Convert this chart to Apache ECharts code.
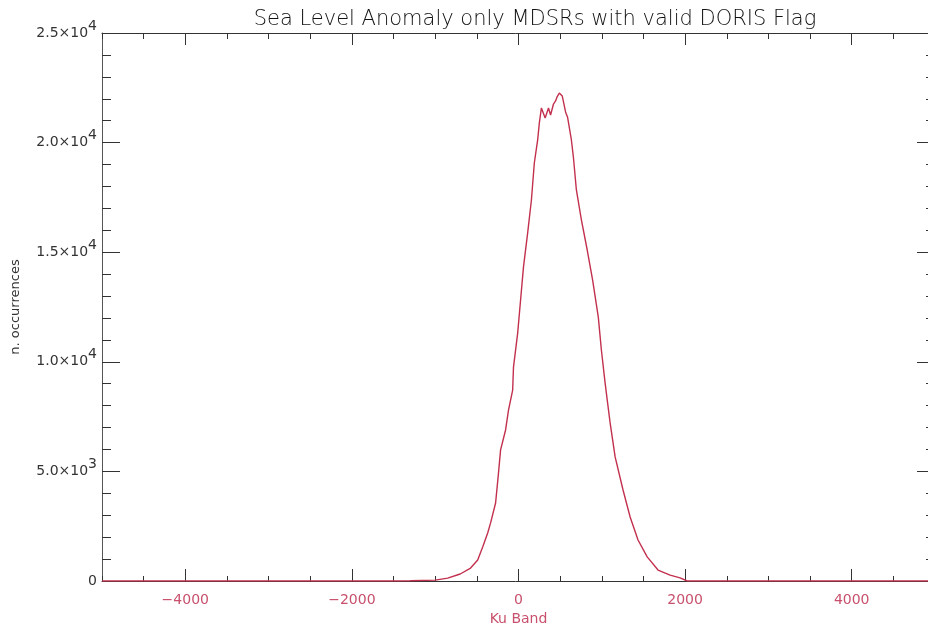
<!DOCTYPE html>
<html>
<head>
<meta charset="utf-8">
<script src="https://cdn.jsdelivr.net/npm/echarts@6/dist/echarts.min.js"></script>
<style>
  html, body { margin: 0; padding: 0; background: #fff; }
  #chart { width: 928px; height: 626px; }
</style>
</head>
<body>
<div id="chart"></div>
<script>
// histogram (bin centre, count)
const binCentres = [-5000, -1500, -1300, -1000, -850, -700, -575, -490, -430, -370, -335, -275, -240, -215, -155, -120, -70, -60, -10, 25, 60, 110, 155, 190, 230, 250, 275, 320, 360, 385, 420, 445, 465, 490, 525, 540, 565, 590, 635, 660, 695, 755, 825, 890, 958, 995, 1040, 1065, 1100, 1160, 1255, 1340, 1435, 1545, 1675, 1820, 1940, 2025, 5000]
const counts = [0, 0, 10, 40, 130, 320, 590, 960, 1550, 2190, 2650, 3560, 4930, 5980, 6890, 7800, 8710, 9760, 11310, 12820, 14330, 15880, 17380, 19070, 20120, 20890, 21580, 21120, 21580, 21260, 21760, 21900, 22100, 22260, 22130, 22220, 21400, 21140, 20120, 19300, 17840, 16470, 15100, 13730, 12040, 10540, 9030, 8260, 7210, 5660, 4150, 2920, 1870, 1100, 500, 270, 140, 0, 0]
const xMajorTicks = [-4000, -2000, 0, 2000, 4000]

const chartTitle = 'Sea Level Anomaly only MDSRs with valid DORIS Flag'
const xName = 'Ku Band'
const yName = 'n. occurrences'

const RED = '#c8506c'
const LINE = '#c2304e'
const INK = '#333'

const myChart = echarts.init(document.getElementById('chart'), null, { renderer: 'canvas' })

const yLabel = function (v) {
    if (v === 0) return '{b|0}'
    const e = Math.floor(Math.log10(v))
    return '{b|' + (v / Math.pow(10, e)).toFixed(1) + '×10}{s|' + e + '}'
}

const xBase = {
    type: 'value', min: -5000, max: 5000, interval: 500,
    axisLine: { onZero: false, lineStyle: { color: INK, width: 1 } },
    axisTick: { inside: true, length: 5, lineStyle: { color: INK } },
    axisLabel: { show: false },
    splitLine: { show: false }
}
const yBase = {
    type: 'value', min: 0, max: 25000, interval: 5000,
    axisLine: { show: true, onZero: false, lineStyle: { color: '#555', width: 1 } },
    axisTick: { inside: true, length: 18, lineStyle: { color: INK } },
    minorTick: { show: true, splitNumber: 5, length: 9, lineStyle: { color: INK } },
    axisLabel: { show: false },
    splitLine: { show: false }
}

const option = {
    animation: false,
    backgroundColor: '#fff',
    title: {
        text: chartTitle, left: 530, top: 4, textAlign: 'center',
        textStyle: { fontFamily: 'DejaVu Sans', fontSize: 21, fontWeight: 200, color: '#111' }
    },
    grid: { left: 102, right: -7, top: 33, bottom: 45, containLabel: false, outerBoundsMode: 'none' },
    xAxis: [
        Object.assign({}, xBase, {
            position: 'bottom',
            axisLabel: {
                show: true, margin: 12, fontFamily: 'DejaVu Sans', fontSize: 14, color: RED,
                formatter: v => (v % 2000 === 0 ? String(v).replace('-', '\u2212') : '')
            },
            name: xName, nameLocation: 'middle', nameGap: 30,
            nameTextStyle: { fontFamily: 'DejaVu Sans', fontSize: 14, color: RED }
        }),
        Object.assign({}, xBase, { position: 'top', axisTick: { inside: true, length: 6, lineStyle: { color: INK } } }),
        Object.assign({}, xBase, {
            position: 'top', axisLine: { show: false, onZero: false },
            axisTick: { inside: true, length: 12, customValues: xMajorTicks, lineStyle: { color: INK } }
        }),
        Object.assign({}, xBase, {
            position: 'bottom', axisLine: { show: false, onZero: false },
            axisTick: { inside: true, length: 12, customValues: xMajorTicks, lineStyle: { color: INK } }
        })
    ],
    yAxis: [
        Object.assign({}, yBase, {
            position: 'left',
            axisLabel: {
                show: true, margin: 5, color: INK, fontFamily: 'DejaVu Sans', formatter: yLabel,
                rich: {
                    b: { fontSize: 14, fontFamily: 'DejaVu Sans', color: INK, lineHeight: 28, verticalAlign: 'middle' },
                    s: { fontSize: 14, fontFamily: 'DejaVu Sans', color: INK, lineHeight: 14, verticalAlign: 'top' }
                }
            },
            name: yName, nameLocation: 'middle', nameGap: 80, nameRotate: 90,
            nameTextStyle: { fontFamily: 'DejaVu Sans', fontSize: 13, color: INK }
        }),
        Object.assign({}, yBase, { position: 'right' })
    ],
    series: [{
        type: 'line',
        xAxisIndex: 0,
        yAxisIndex: 0,
        data: binCentres.map((x, i) => [x, counts[i]]),
        showSymbol: false,
        lineStyle: { color: LINE, width: 1.4 },
        z: 5
    }]
}

myChart.setOption(option)
</script>
</body>
</html>
